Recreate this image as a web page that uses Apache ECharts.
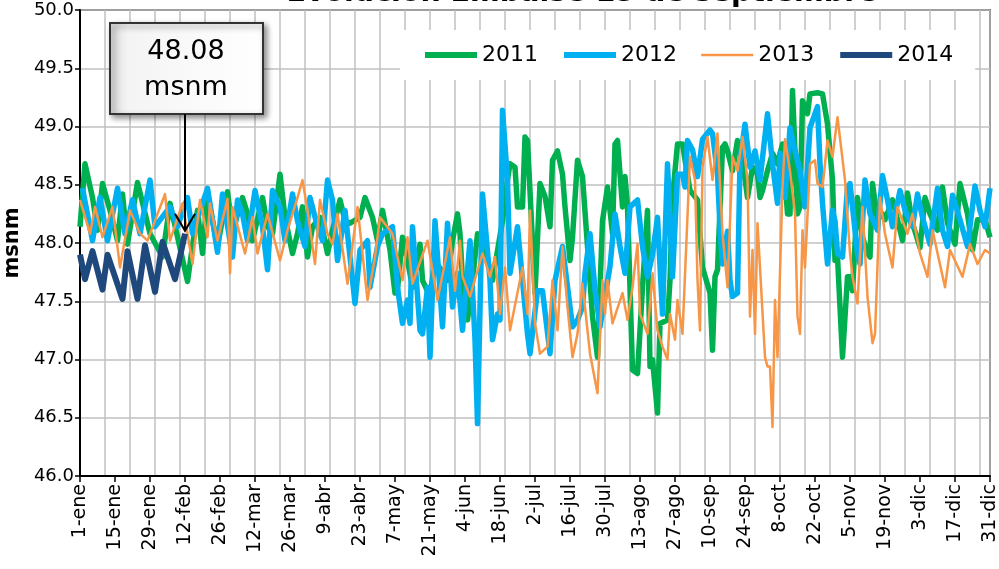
<!DOCTYPE html>
<html>
<head>
<meta charset="utf-8">
<title>Evolución Embalse 15 de septiembre</title>
<script src="https://cdn.jsdelivr.net/npm/echarts@6/dist/echarts.min.js"></script>
<style>
  html, body { margin: 0; padding: 0; background: #fff; }
  #chart { width: 999px; height: 569px; }
</style>
</head>
<body>
<div id="chart"></div>
<script>
// niveles diarios (dia del año, msnm)
var years = ['2011', '2012', '2013', '2014'];
var tickLabels = ['1-ene', '15-ene', '29-ene', '12-feb', '26-feb', '12-mar', '26-mar', '9-abr', '23-abr',
    '7-may', '21-may', '4-jun', '18-jun', '2-jul', '16-jul', '30-jul', '13-ago', '27-ago', '10-sep',
    '24-sep', '8-oct', '22-oct', '5-nov', '19-nov', '3-dic', '17-dic', '31-dic'];

var lvl2011 = [[0,48.14],[2,48.68],[5,48.39],[7,48.11],[9,48.51],[12,48.28],[15,48.02],[17,48.42],[19,47.99],[23,48.52],
    [28,48.08],[33,47.88],[36,48.34],[43,47.67],[47,48.28],[49,47.91],[51,48.42],[55,47.97],[59,48.44],[61,48.1],
    [65,48.39],[67,48.25],[69,48.02],[73,48.39],[75,48.14],[77,48.08],[80,48.59],[82,48.22],[85,47.91],[87,48.08],
    [89,48.31],[91,47.88],[93,48.14],[96,48.22],[99,47.91],[101,48.11],[104,48.37],[106,48.19],[108,48.17],[112,48.22],
    [114,48.39],[117,48.22],[119,48.02],[121,48.28],[124,47.94],[126,47.57],[127,47.6],[129,48.05],[131,47.85],[133,47.62],
    [136,47.99],[137,47.68],[140,47.54],[142,47.85],[147,47.68],[149,48.02],[151,48.25],[152,48.08],[153,47.68],[155,47.34],
    [157,47.68],[159,48.08],[163,47.85],[165,47.68],[169,48.19],[171,48.54],[172,48.68],[174,48.65],[175,48.31],[177,48.31],
    [178,48.91],[179,48.88],[182,47.57],[184,48.51],[186,48.4],[188,48.14],[189,48.71],[191,48.79],[193,48.59],[194,48.31],
    [196,47.85],[197,48.05],[199,48.71],[201,48.57],[203,47.97],[205,47.37],[207,47.02],[209,48.19],[211,48.48],[213,48.08],
    [214,48.85],[215,48.88],[217,48.31],[218,48.57],[219,48.31],[221,46.91],[223,46.88],[225,47.62],[227,48.28],[228,46.94],
    [229,47.0],[231,46.54],[232,47.31],[235,47.34],[236,47.68],[237,48.39],[239,48.85],[241,48.85],[244,48.45],[247,48.37],
    [249,47.79],[252,47.57],[253,47.08],[254,47.71],[255,47.77],[257,48.82],[258,48.85],[259,48.79],[261,48.62],[263,48.88],
    [265,48.71],[267,48.39],[269,48.65],[271,48.59],[272,48.39],[273,48.45],[275,48.62],[277,48.77],[279,48.68],[281,48.85],
    [283,48.25],[284,48.25],[285,49.31],[287,48.25],[288,48.31],[289,49.22],[291,49.11],[292,49.28],[295,49.29],[297,49.28],
    [299,49.02],[301,48.54],[302,47.85],[303,47.88],[305,47.02],[307,47.71],[308,47.71],[309,47.59],[311,48.39],[313,48.05],
    [315,47.91],[316,47.88],[317,48.51],[319,48.2],[321,48.25],[322,48.2],[325,48.37],[327,48.2],[329,48.02],[331,48.43],
    [333,48.17],[336,47.96],[338,48.39],[340,48.25],[343,48.11],[345,48.48],[347,48.17],[350,47.99],[352,48.51],[355,48.25],
    [357,47.94],[359,48.2],[362,48.2],[364,48.05]];

var lvl2012 = [[1,48.47],[5,48.02],[8,48.39],[11,48.02],[15,48.47],[18,48.08],[21,48.37],[24,48.08],[28,48.54],[30,48.14],
    [36,48.31],[39,48.14],[43,48.39],[45,48.08],[51,48.47],[55,47.92],[57,48.42],[61,47.88],[63,48.37],[65,48.25],
    [67,48.02],[70,48.45],[73,48.14],[75,47.77],[77,48.45],[80,48.31],[82,48.02],[85,48.42],[87,48.19],[90,47.97],
    [92,48.39],[95,48.14],[97,48.02],[99,48.54],[101,48.37],[103,47.85],[106,48.28],[109,47.68],[110,47.48],[112,47.94],
    [115,48.02],[116,47.62],[119,47.97],[121,48.08],[125,48.14],[127,47.62],[129,47.31],[131,47.51],[132,47.31],[133,48.14],
    [136,47.25],[137,47.22],[139,47.62],[140,47.02],[142,48.19],[145,47.28],[147,48.17],[149,47.45],[151,47.74],[153,47.25],
    [156,48.02],[158,47.17],[159,46.45],[161,48.42],[164,47.68],[165,47.17],[167,47.39],[168,47.34],[169,49.14],[171,48.54],
    [172,47.74],[175,48.14],[177,47.68],[179,47.22],[180,47.05],[183,47.59],[185,47.59],[188,47.05],[190,47.68],[193,47.97],
    [197,47.28],[199,47.34],[201,47.45],[202,47.74],[204,48.08],[206,47.6],[208,47.28],[210,47.54],[212,47.8],[214,48.25],
    [216,47.97],[218,47.74],[220,48.31],[223,48.37],[225,47.97],[227,47.71],[229,47.9],[231,48.22],[233,47.39],[235,48.68],
    [237,47.71],[239,48.59],[241,48.59],[242,48.48],[243,48.88],[245,48.8],[247,48.57],[249,48.89],[252,48.97],[253,48.94],
    [255,48.59],[256,48.14],[257,47.82],[259,48.1],[260,47.68],[261,47.54],[263,47.57],[264,48.71],[266,49.02],[268,48.65],
    [270,48.79],[272,48.54],[275,49.11],[277,48.68],[279,48.34],[280,48.77],[282,48.39],[284,48.99],[286,48.79],[288,48.62],
    [290,48.31],[292,48.99],[295,49.17],[296,48.68],[297,48.34],[299,47.82],[301,48.28],[302,48.19],[303,47.91],[305,47.88],
    [307,48.48],[308,48.51],[311,47.91],[312,47.82],[314,48.54],[316,48.25],[319,48.11],[321,48.58],[323,48.37],[325,48.14],
    [328,48.45],[330,48.28],[333,48.14],[335,48.42],[337,48.22],[340,47.99],[343,48.47],[345,48.11],[347,47.97],[349,48.41],
    [352,48.2],[355,47.97],[358,48.49],[360,48.28],[362,48.14],[364,48.47]];

var lvl2013 = [[0,48.37],[4,48.08],[6,48.31],[9,48.05],[13,48.31],[16,47.79],[20,48.28],[24,48.08],[27,48.02],[34,48.42],
    [36,48.02],[41,48.34],[45,47.82],[48,48.37],[51,48.05],[52,48.34],[55,48.02],[59,48.38],[60,47.74],[61,48.31],
    [66,47.91],[69,48.22],[71,47.91],[75,48.25],[80,47.85],[83,48.11],[87,48.39],[89,48.54],[91,48.28],[94,47.82],
    [96,48.37],[99,48.08],[101,47.99],[103,48.25],[107,47.65],[111,48.31],[115,47.51],[118,47.88],[120,48.22],[125,48.08],
    [129,47.68],[131,48.05],[133,47.65],[139,48.02],[143,47.51],[148,48.05],[150,47.59],[152,48.02],[153,47.71],[156,47.54],
    [161,47.91],[164,47.71],[166,47.88],[168,47.39],[170,47.79],[172,47.25],[177,47.79],[179,47.39],[180,48.28],[182,47.31],
    [184,47.05],[187,47.11],[189,47.68],[191,47.25],[193,47.97],[195,47.45],[197,47.02],[199,47.22],[201,47.65],[204,47.05],
    [207,46.71],[209,47.68],[210,47.39],[211,47.68],[213,47.31],[217,47.57],[219,47.34],[221,47.62],[223,47.99],[224,47.39],
    [227,47.22],[229,47.74],[231,47.25],[233,47.11],[235,47.0],[236,47.39],[238,47.17],[239,47.51],[241,47.22],[244,48.74],
    [246,48.54],[247,47.68],[248,47.25],[249,48.65],[251,48.91],[253,48.54],[255,48.94],[257,48.08],[258,47.85],[259,47.62],
    [261,48.74],[263,48.62],[265,48.91],[267,48.54],[268,47.37],[269,47.94],[270,47.22],[271,48.17],[274,47.02],[275,46.94],
    [276,46.94],[277,46.42],[278,47.51],[279,47.02],[281,48.48],[282,48.89],[284,48.62],[286,48.25],[287,47.37],[288,47.22],
    [289,48.11],[290,47.79],[292,48.68],[294,48.71],[295,48.51],[297,48.48],[299,48.88],[301,48.74],[303,49.08],[306,48.54],
    [308,47.91],[309,47.71],[311,47.48],[313,48.31],[315,47.54],[317,47.14],[318,47.22],[320,48.39],[322,48.08],[325,47.79],
    [327,48.31],[329,48.19],[331,48.08],[333,48.25],[336,47.91],[339,47.71],[341,48.11],[346,47.62],[348,47.94],[353,47.71],
    [356,47.99],[359,47.82],[362,47.94],[364,47.91]];

var lvl2014 = [[0,47.9],[2,47.69],[5,47.93],[9,47.6],[11,47.9],[17,47.52],[19,47.93],[23,47.52],[26,47.98],[30,47.58],
    [33,48.01],[38,47.69],[42,48.08]];

var lastLabel = ['48.08', 'msnm'];

var font = 'DejaVu Sans';
var colors = ['#00B050', '#00B0F0', '#F79646', '#1F497D'];
var widths = [5.5, 5.5, 2.5, 6];
var myChart = echarts.init(document.getElementById('chart'));

function lineSeries(i, data) {
    return {
        name: years[i],
        type: 'line',
        data: data,
        symbol: 'none',
        smooth: false,
        animation: false,
        lineStyle: { color: colors[i], width: widths[i], join: 'round' },
        itemStyle: { color: colors[i] }
    };
}

var option = {
    animation: false,
    grid: {
        left: 80, right: 9, top: 10, bottom: 93,
        outerBoundsMode: 'none', containLabel: false,
        show: true, borderColor: '#000', borderWidth: 1.5
    },
    legend: {
        data: years.map(function (y, i) {
            return { name: y, lineStyle: { width: widths[i] === 2.5 ? 2.5 : 6 } };
        }),
        left: 400, top: 30,
        padding: [14, 22],
        backgroundColor: '#fff',
        itemWidth: 52, itemHeight: 14, itemGap: 23,
        itemStyle: { color: 'transparent', borderColor: 'transparent', borderWidth: 0, opacity: 0 },
        textStyle: { fontFamily: font, fontSize: 22, color: '#000' }
    },
    xAxis: [{
        type: 'value', min: 0, max: 364, interval: 14,
        axisLine: { lineStyle: { color: '#000', width: 2 } },
        axisTick: { show: true, length: 6, lineStyle: { color: '#000', width: 1.5 } },
        splitLine: { show: false },
        axisLabel: {
            rotate: 90, margin: 8, fontFamily: font, fontSize: 19, color: '#000',
            formatter: function (v) { return tickLabels[Math.round(v / 14)]; }
        }
    }, {
        type: 'value', min: 0, max: 364, interval: 10, position: 'bottom',
        axisLine: { show: false }, axisTick: { show: false }, axisLabel: { show: false },
        splitLine: { show: true, lineStyle: { color: '#c0c0c0', width: 1.5 } }
    }],
    yAxis: {
        type: 'value', min: 46, max: 50, interval: 0.5,
        name: 'msnm', nameLocation: 'middle', nameGap: 57, nameRotate: 90,
        nameTextStyle: { fontFamily: font, fontSize: 21, fontWeight: 'bold', color: '#000' },
        axisLine: { show: true, lineStyle: { color: '#000', width: 2 } },
        axisTick: { show: true, length: 5, lineStyle: { color: '#000', width: 1.5 } },
        splitLine: { show: true, lineStyle: { color: '#c0c0c0', width: 1.5 } },
        axisLabel: {
            margin: 6, fontFamily: font, fontSize: 18, color: '#000',
            formatter: function (v) { return v.toFixed(1); }
        }
    },
    series: [
        lineSeries(0, lvl2011),
        lineSeries(1, lvl2012),
        lineSeries(2, lvl2013),
        lineSeries(3, lvl2014)
    ]
};
myChart.setOption(option);

// cuadro con el ultimo valor y flecha hacia el punto
var last = lvl2014[lvl2014.length - 1];
var tip = myChart.convertToPixel({ xAxisIndex: 0, yAxisIndex: 0 }, last);
var tx = tip[0], ty = tip[1] - 3;
var boxW = 153, boxH = 91, boxTop = 23;
myChart.setOption({
    graphic: [{
        type: 'text', x: 582, y: -21, z: 100,
        style: { text: 'Evolución Embalse 15 de septiembre', textAlign: 'center', textVerticalAlign: 'top',
            fill: '#000', font: 'bold 28.5px ' + font }
    }, {
        type: 'rect', z: 100,
        shape: { x: tx - 75, y: boxTop, width: boxW, height: boxH },
        style: {
            fill: new echarts.graphic.LinearGradient(0, 0, 1, 0, [
                { offset: 0, color: '#d9d9d9' }, { offset: 0.12, color: '#f4f4f4' },
                { offset: 1, color: '#ffffff' }]),
            stroke: '#333', lineWidth: 2,
            shadowBlur: 6, shadowOffsetX: 3, shadowOffsetY: 3, shadowColor: 'rgba(0,0,0,0.45)'
        }
    }, {
        type: 'text', z: 101,
        style: { text: lastLabel[0], x: tx + 1, y: boxTop + 29, textAlign: 'center', textVerticalAlign: 'middle',
            font: '27px ' + font, fill: '#000' }
    }, {
        type: 'text', z: 101,
        style: { text: lastLabel[1], x: tx + 1, y: boxTop + 65, textAlign: 'center', textVerticalAlign: 'middle',
            font: '27px ' + font, fill: '#000' }
    }, {
        type: 'line', z: 101,
        shape: { x1: tx, y1: boxTop + boxH, x2: tx, y2: ty },
        style: { stroke: '#000', lineWidth: 2 }
    }, {
        type: 'polyline', z: 101,
        shape: { points: [[tx - 10, ty - 17], [tx, ty], [tx + 10, ty - 17]] },
        style: { stroke: '#000', lineWidth: 2, fill: null }
    }]
});
</script>
</body>
</html>
